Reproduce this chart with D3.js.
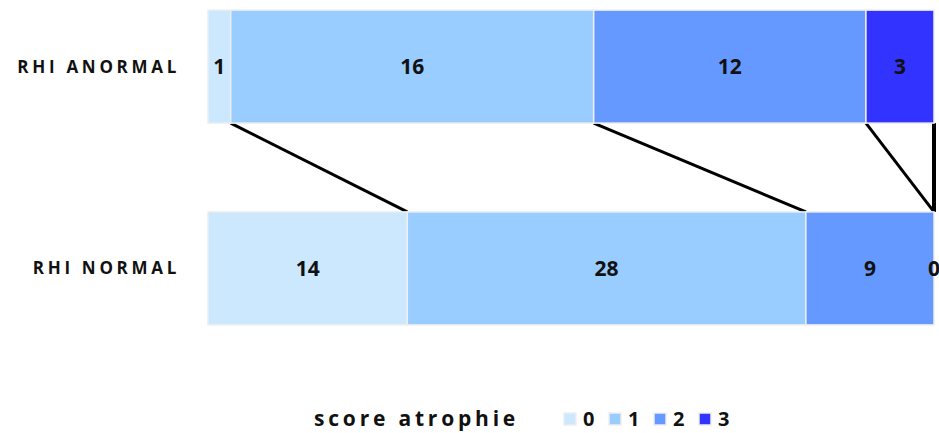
<!DOCTYPE html>
<html>
<head>
<meta charset="utf-8">
<script src="https://cdn.jsdelivr.net/npm/d3@7"></script>
<style>
  body { margin: 0; background: #fff; }
  text { font-family: "Open Sans", sans-serif; font-weight: bold; fill: #111; }
</style>
</head>
<body>
<div id="root"></div>
<script>
const width = 939
const height = 433

const groups = ['RHI ANORMAL', 'RHI NORMAL']
const scores = ['0', '1', '2', '3']
const anormal = [1, 16, 12, 3]
const normal = [14, 28, 9, 0]
const colors = ['#cce8ff', '#99ccff', '#6699ff', '#3333ff']

const rows = [anormal, normal].map((vals, i) => {
  const total = d3.sum(vals)
  let acc = 0
  return {
    name: groups[i],
    segs: vals.map((v, j) => {
      const s = { score: scores[j], value: v, x0: acc / total, x1: (acc + v) / total }
      acc += v
      return s
    })
  }
})

const svg = d3.select('#root').append('svg')
  .attr('width', width)
  .attr('height', height)

const x = d3.scaleLinear().domain([0, 1]).range([208, 934])
const y = d3.scaleBand().domain(groups).range([0, 335]).paddingInner(0.44).paddingOuter(0.05)

// connector lines between bars
const upper = rows[0], lower = rows[1]
const links = upper.segs.map((s, j) => [s.x1, lower.segs[j].x1])
svg.selectAll('line.link')
  .data(links)
  .enter().append('line')
    .attr('class', 'link')
    .attr('x1', d => x(d[0]))
    .attr('x2', d => x(d[1]))
    .attr('y1', y(groups[0]) + y.bandwidth())
    .attr('y2', y(groups[1]))
    .attr('stroke', '#000')
    .attr('stroke-width', (d, i) => i === links.length - 1 ? 4 : 3)

const g = svg.selectAll('g.row')
  .data(rows)
  .enter().append('g')
    .attr('class', 'row')
    .attr('transform', d => `translate(0,${y(d.name)})`)

g.selectAll('rect')
  .data(d => d.segs)
  .enter().append('rect')
    .attr('x', d => x(d.x0))
    .attr('width', d => x(d.x1) - x(d.x0))
    .attr('height', y.bandwidth())
    .attr('fill', (d, i) => colors[i])
    .attr('stroke', '#eeeeee')
    .attr('stroke-width', 1.5)

g.selectAll('text.val')
  .data(d => d.segs)
  .enter().append('text')
    .attr('class', 'val')
    .attr('x', d => (x(d.x0) + x(d.x1)) / 2)
    .attr('y', y.bandwidth() / 2)
    .attr('dy', '0.35em')
    .attr('text-anchor', 'middle')
    .style('font-size', '21px')
    .text(d => d.value)

g.append('text')
  .attr('x', 180)
  .attr('y', y.bandwidth() / 2)
  .attr('dy', '0.35em')
  .attr('text-anchor', 'end')
  .style('font-size', '17px')
  .style('letter-spacing', '3.7px')
  .text(d => d.name)

// legend
const leg = svg.append('g').attr('transform', 'translate(0,419)')
leg.append('text')
  .attr('x', 314)
  .attr('dy', '0.35em')
  .style('font-size', '21px')
  .style('letter-spacing', '3.8px')
  .text('score atrophie')

const item = leg.selectAll('g.item')
  .data(scores)
  .enter().append('g')
    .attr('class', 'item')
    .attr('transform', (d, i) => `translate(${564 + i * 45},0)`)

item.append('rect')
  .attr('x', 0)
  .attr('y', -6)
  .attr('width', 12)
  .attr('height', 12)
  .attr('fill', (d, i) => colors[i])
  .attr('stroke', '#eeeeee')
  .attr('stroke-width', 1.5)

item.append('text')
  .attr('x', 19)
  .attr('dy', '0.35em')
  .style('font-size', '20px')
  .text(d => d)
</script>
</body>
</html>
